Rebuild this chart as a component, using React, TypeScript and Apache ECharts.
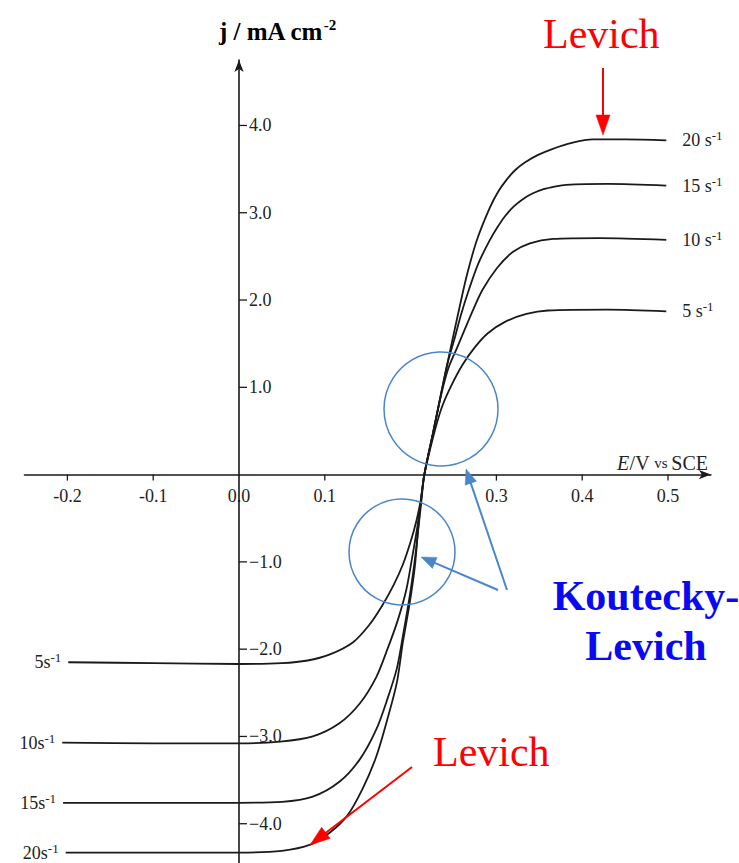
import React, { useEffect, useRef } from "react";
import * as echarts from "echarts";

// Rotation rates (s^-1) of each curve
const rates = ["5", "10", "15", "20"];

// Curves: [E / V vs SCE, j / mA cm^-2]
const curve5s = [
  [-0.199, -2.15], [-0.1, -2.16], [0.0, -2.17], [0.05, -2.16], [0.08, -2.13], [0.106, -2.06],
  [0.133, -1.92], [0.152, -1.72], [0.167, -1.5], [0.18, -1.27], [0.191, -1.03], [0.2, -0.77],
  [0.207, -0.52], [0.212, -0.28], [0.216, 0], [0.226, 0.42], [0.236, 0.76], [0.247, 1.01],
  [0.26, 1.25], [0.275, 1.46], [0.29, 1.62], [0.31, 1.75], [0.335, 1.84], [0.36, 1.88],
  [0.43, 1.89], [0.498, 1.87],
];
const curve10s = [
  [-0.206, -3.07], [-0.1, -3.08], [0.0, -3.08], [0.048, -3.06], [0.086, -3.0], [0.117, -2.85],
  [0.141, -2.62], [0.16, -2.32], [0.173, -2.0], [0.185, -1.67], [0.195, -1.32], [0.202, -0.94],
  [0.208, -0.59], [0.212, -0.3], [0.216, 0], [0.226, 0.47], [0.236, 0.93], [0.244, 1.22],
  [0.254, 1.45], [0.263, 1.66], [0.273, 1.89], [0.284, 2.12], [0.301, 2.37], [0.319, 2.55],
  [0.339, 2.65], [0.366, 2.7], [0.42, 2.71], [0.498, 2.69],
];
const curve15s = [
  [-0.205, -3.76], [-0.1, -3.76], [0.0, -3.76], [0.05, -3.75], [0.086, -3.69], [0.117, -3.52],
  [0.141, -3.26], [0.16, -2.92], [0.173, -2.57], [0.184, -2.22], [0.191, -1.85], [0.199, -1.39],
  [0.205, -0.97], [0.209, -0.62], [0.2125, -0.31], [0.216, 0], [0.226, 0.47], [0.236, 0.95],
  [0.243, 1.27], [0.251, 1.55], [0.259, 1.84], [0.268, 2.12], [0.279, 2.42], [0.292, 2.68],
  [0.301, 2.83], [0.31, 2.96], [0.32, 3.07], [0.33, 3.15], [0.342, 3.22], [0.355, 3.27],
  [0.368, 3.3], [0.381, 3.32], [0.43, 3.33], [0.498, 3.31],
];
const curve20s = [
  [-0.202, -4.33], [-0.1, -4.33], [0.0, -4.33], [0.05, -4.31], [0.083, -4.24], [0.106, -4.1],
  [0.126, -3.91], [0.144, -3.6], [0.16, -3.23], [0.173, -2.8], [0.184, -2.38], [0.191, -1.92],
  [0.199, -1.47], [0.205, -1.05], [0.209, -0.6], [0.212, -0.3], [0.216, 0], [0.226, 0.47],
  [0.236, 0.95], [0.243, 1.28], [0.25, 1.6], [0.258, 1.96], [0.266, 2.3], [0.277, 2.68],
  [0.292, 3.05], [0.302, 3.24], [0.312, 3.38], [0.322, 3.49], [0.334, 3.58], [0.348, 3.66],
  [0.365, 3.73], [0.388, 3.8], [0.412, 3.84], [0.45, 3.84], [0.498, 3.83],
];
const curves = [curve5s, curve10s, curve15s, curve20s];

// Axis ticks and labels
const xLabelValues = [-0.2, -0.1, 0.0, 0.1, 0.3, 0.4, 0.5];
const xTickValues = [-0.2, -0.1, 0.1, 0.3, 0.4, 0.5];
const yTickValues = [-4, -3, -2, -1, 1, 2, 3, 4];

const SERIF = "'Liberation Serif', 'DejaVu Serif', serif";
const INK = "#1a1a1a";
const BLUE_LINE = "#4a86c8";

function arrow(x1: number, y1: number, x2: number, y2: number, color: string, width: number, headLen: number, headHalf: number) {
  const dx = x2 - x1;
  const dy = y2 - y1;
  const len = Math.sqrt(dx * dx + dy * dy);
  const ux = dx / len;
  const uy = dy / len;
  const bx = x2 - ux * headLen;
  const by = y2 - uy * headLen;
  const px = -uy * headHalf;
  const py = ux * headHalf;
  return [
    { type: "line", shape: { x1, y1, x2: bx + ux * 2, y2: by + uy * 2 }, style: { stroke: color, lineWidth: width }, z: 10 },
    {
      type: "polygon",
      shape: { points: [[x2, y2], [bx + px, by + py], [bx - px, by - py]] },
      style: { fill: color, stroke: color, lineWidth: 0.5 },
      z: 10,
    },
  ];
}

export default function App() {
  const ref = useRef<HTMLDivElement>(null);

  useEffect(() => {
    const chart = echarts.init(ref.current!, null, { renderer: "svg" });
    const option: any = {
      animation: false,
      backgroundColor: "#ffffff",
      grid: { left: 24.5, top: 60, width: 686.4, height: 803 },
      xAxis: {
        type: "value",
        min: -0.25,
        max: 0.55,
        axisLine: {
          onZero: true,
          symbol: ["none", "arrow"],
          symbolSize: [7, 12],
          lineStyle: { color: INK, width: 1.6 },
        },
        axisTick: { show: false },
        axisLabel: { show: false },
        splitLine: { show: false },
      },
      yAxis: {
        type: "value",
        min: -4.45,
        max: 4.75,
        axisLine: {
          onZero: true,
          symbol: ["none", "arrow"],
          symbolSize: [7, 12],
          lineStyle: { color: INK, width: 1.6 },
        },
        axisTick: { show: false },
        axisLabel: { show: false },
        splitLine: { show: false },
      },
      series: curves.map((c, i) => ({
        type: "line",
        name: rates[i] + " s-1",
        data: c,
        showSymbol: false,
        smooth: 0.3,
        lineStyle: { color: INK, width: 1.8 },
        silent: true,
      })),
    };
    chart.setOption(option);

    const toPx = (p: number[]) => chart.convertToPixel({ gridIndex: 0 }, p) as number[];
    const g: any[] = [];
    const origin = toPx([0, 0]);

    // x ticks (downward) and labels
    xTickValues.forEach((v) => {
      const p = toPx([v, 0]);
      g.push({ type: "line", shape: { x1: p[0], y1: origin[1], x2: p[0], y2: origin[1] + 6 }, style: { stroke: INK, lineWidth: 1.3 } });
    });
    xLabelValues.forEach((v) => {
      const p = toPx([v, 0]);
      g.push({
        type: "text", x: p[0], y: origin[1] + 12,
        style: { text: v.toFixed(1), font: `18px ${SERIF}`, fill: "#222", align: "center", verticalAlign: "top" },
      });
    });
    // y ticks (to the right) and labels
    yTickValues.forEach((v) => {
      const p = toPx([0, v]);
      g.push({ type: "line", shape: { x1: origin[0], y1: p[1], x2: origin[0] + 8, y2: p[1] }, style: { stroke: INK, lineWidth: 1.3 } });
      g.push({
        type: "text", x: origin[0] + 10, y: p[1],
        style: {
          text: (v < 0 ? "\u2212" : "") + Math.abs(v).toFixed(1),
          font: `18px ${SERIF}`, fill: "#222", align: "left", verticalAlign: "middle",
        },
      });
    });

    // curve labels at both ends
    const supRich = {
      n: { fontSize: 18, fontFamily: SERIF, fill: "#222", lineHeight: 22 },
      s: { fontSize: 13, fontFamily: SERIF, fill: "#222", verticalAlign: "top", lineHeight: 12 },
    };
    curves.forEach((c, i) => {
      const first = toPx(c[0]);
      const last = toPx(c[c.length - 1]);
      g.push({
        type: "text", x: last[0] + 16, y: last[1],
        style: { text: `{n|${rates[i]} s}{s|-1}`, align: "left", verticalAlign: "middle", rich: supRich },
      });
      g.push({
        type: "text", x: first[0] - 7, y: first[1],
        style: { text: `{n|${rates[i]}s}{s|-1}`, align: "right", verticalAlign: "middle", rich: supRich },
      });
    });

    // axis names
    g.push({
      type: "text", x: 219, y: 31,
      style: {
        text: "{m|j / mA cm}{s|-2}",
        align: "left",
        verticalAlign: "middle",
        rich: {
          m: { fontSize: 25, fontWeight: "bold", fontFamily: SERIF, fill: "#000", lineHeight: 27 },
          s: { fontSize: 15, fontWeight: "bold", fontFamily: SERIF, fill: "#000", verticalAlign: "top", lineHeight: 12 },
        },
      },
    });
    g.push({
      type: "text", x: 708, y: 463,
      style: {
        text: "{i|E}{r|/V }{v|vs }{r|SCE}",
        align: "right",
        verticalAlign: "middle",
        rich: {
          i: { fontSize: 20, fontStyle: "italic", fontFamily: SERIF, fill: "#222" },
          r: { fontSize: 20, fontFamily: SERIF, fill: "#222" },
          v: { fontSize: 15, fontFamily: SERIF, fill: "#222" },
        },
      },
    });

    // blue circles and arrows (Koutecky-Levich regions)
    g.push({ type: "circle", shape: { cx: 441, cy: 409, r: 57 }, style: { fill: "none", stroke: BLUE_LINE, lineWidth: 1.5 }, z: 10 });
    g.push({ type: "circle", shape: { cx: 402, cy: 552, r: 53 }, style: { fill: "none", stroke: BLUE_LINE, lineWidth: 1.5 }, z: 10 });
    g.push(...arrow(507, 590, 466, 469, BLUE_LINE, 2, 15, 6));
    g.push(...arrow(498, 590, 421, 557, BLUE_LINE, 2, 15, 6));

    // red Levich arrows
    g.push(...arrow(603, 68, 603, 135, "#ff0000", 2, 20, 7));
    g.push(...arrow(412, 767, 310, 845, "#ff0000", 2, 20, 7));

    // annotation texts
    g.push({
      type: "text", x: 543, y: 33.5,
      style: { text: "Levich", font: `normal 42px ${SERIF}`, fill: "#ff0000", align: "left", verticalAlign: "middle" },
    });
    g.push({
      type: "text", x: 433, y: 751.5,
      style: { text: "Levich", font: `normal 42px ${SERIF}`, fill: "#ff0000", align: "left", verticalAlign: "middle" },
    });
    g.push({
      type: "text", x: 646, y: 595.5,
      style: { text: "Koutecky-", font: `bold 42px ${SERIF}`, fill: "#0a0af0", align: "center", verticalAlign: "middle" },
    });
    g.push({
      type: "text", x: 646, y: 645.5,
      style: { text: "Levich", font: `bold 42px ${SERIF}`, fill: "#0a0af0", align: "center", verticalAlign: "middle" },
    });

    chart.setOption({ graphic: g });
    return () => chart.dispose();
  }, []);

  return (
    <div
      ref={ref}
      style={{ position: "fixed", left: 0, top: 0, width: 739, height: 863, background: "#fff" }}
    />
  );
}
